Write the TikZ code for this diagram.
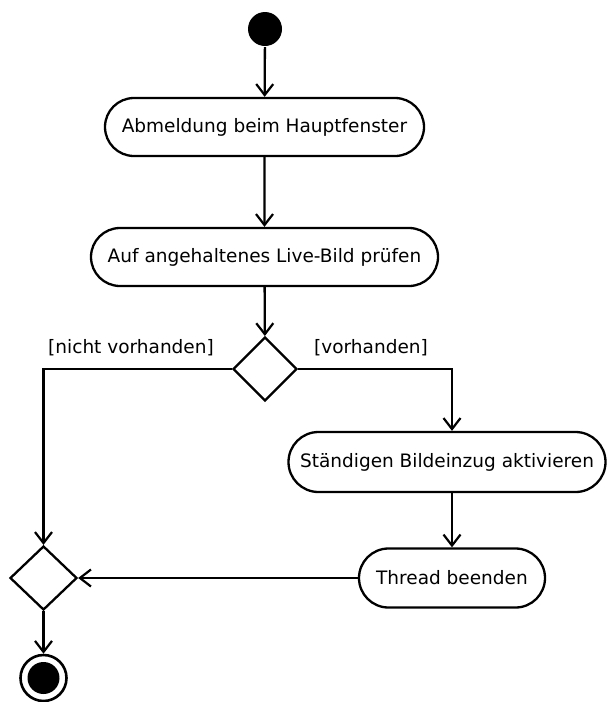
\documentclass[tikz,border=0pt]{standalone}
\usepackage{fontspec}
\setmainfont{DejaVu Sans}
\usetikzlibrary{arrows.meta,shapes.geometric,shapes.misc}
\begin{document}
\begin{tikzpicture}[x=1pt,y=-1pt,
  line width=2.3pt,
  flow/.style={draw,-{Straight Barb[length=11pt,width=17pt,line width=2.2pt]}},
  action/.style={draw,rounded rectangle,inner sep=0pt,minimum height=58pt,font=\fontsize{18.5}{22}\selectfont},
  choice/.style={draw,diamond,inner sep=0pt,minimum width=64pt,minimum height=64pt},
  guard/.style={font=\fontsize{18.5}{22}\selectfont,inner sep=0pt}]
\useasboundingbox (0,0) rectangle (607,702);
\node[circle,fill=black,inner sep=0pt,minimum size=34pt] (start) at (265,29) {};
\node[action,minimum width=319pt] (logout) at (264.5,127) {Abmeldung beim Hauptfenster};
\node[action,minimum width=347pt] (check) at (264.5,257) {Auf angehaltenes Live-Bild prüfen};
\node[choice] (dec) at (265,369) {};
\node[action,minimum width=317pt,minimum height=60pt] (grab) at (447,462) {Ständigen Bildeinzug aktivieren};
\node[action,minimum width=186pt,minimum height=59pt] (thread) at (452,578) {Thread beenden};
\node[choice,minimum width=67pt] (merge) at (43.5,578) {};
\node[circle,draw,line width=2.6pt,inner sep=0pt,minimum size=46pt] (final) at (43.5,678) {};
\node[circle,fill=black,inner sep=0pt,minimum size=32pt] at (final) {};
\node[guard] (gno) at (131,348) {[nicht vorhanden]};
\node[guard] (gyes) at (371,348) {[vorhanden]};
\draw[flow] (start) -- (logout);
\draw[flow] (logout) -- (check);
\draw[flow] (check) -- (dec);
\draw[flow] (dec.west) -| (merge.north);
\draw[flow] (dec.east) -| (grab.north -| thread.north);
\draw[flow] (grab.south -| thread.north) -- (thread.north);
\draw[flow] (thread.west) -- (merge.east);
\draw[flow] (merge.south) -- (final.north);
\end{tikzpicture}
\end{document}
